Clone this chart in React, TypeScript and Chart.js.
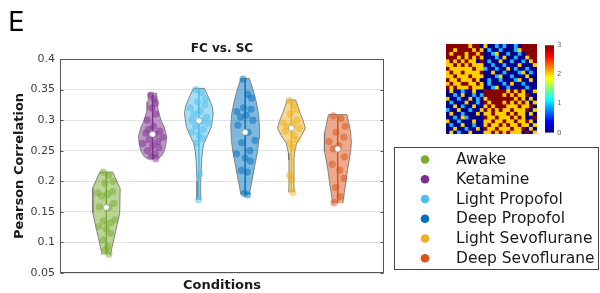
import { useEffect, useRef } from "react";
import { Chart, registerables } from "chart.js";

Chart.register(...registerables);

const FONT = "'DejaVu Sans', 'Liberation Sans', sans-serif";

// ---------- texts ----------
const panelLabel = "E";
const chartTitle = "FC vs. SC";
const xTitle = "Conditions";
const yTitle = "Pearson Correlation";

// ---------- categories ----------
const categories = ["Awake", "Ketamine", "Light Propofol", "Deep Propofol", "Light Sevoflurane", "Deep Sevoflurane"];
const colors = ["#77AC30", "#7E2F8E", "#4DBEEE", "#0072BD", "#EDB120", "#D95319"];

// ---------- y axis ----------
const yMin = 0.05;
const yMax = 0.4;
const yStep = 0.05;

// ---------- per-subject values ----------
const awakeValues = [0.215, 0.21, 0.2, 0.197, 0.183, 0.181, 0.179, 0.176, 0.164, 0.158, 0.157, 0.137, 0.135, 0.132, 0.126, 0.122, 0.115, 0.104, 0.093, 0.088, 0.081];
const ketamineValues = [0.341, 0.335, 0.328, 0.32, 0.31, 0.3, 0.29, 0.285, 0.282, 0.279, 0.277, 0.272, 0.268, 0.265, 0.262, 0.258, 0.255, 0.25, 0.245, 0.24, 0.237];
const lightPropofolValues = [0.35, 0.345, 0.335, 0.33, 0.325, 0.32, 0.315, 0.31, 0.305, 0.3, 0.298, 0.295, 0.29, 0.285, 0.28, 0.275, 0.27, 0.262, 0.212, 0.17];
const deepPropofolValues = [0.367, 0.342, 0.336, 0.32, 0.318, 0.314, 0.308, 0.305, 0.3, 0.292, 0.28, 0.267, 0.263, 0.25, 0.245, 0.238, 0.233, 0.218, 0.215, 0.18, 0.178];
const lightSevoValues = [0.332, 0.325, 0.317, 0.31, 0.3, 0.295, 0.292, 0.29, 0.287, 0.282, 0.275, 0.268, 0.262, 0.255, 0.21, 0.203, 0.182];
const deepSevoValues = [0.307, 0.303, 0.29, 0.28, 0.272, 0.265, 0.258, 0.253, 0.24, 0.228, 0.218, 0.205, 0.19, 0.175, 0.165];

// ---------- violin density profiles (levels and half widths, in category units) ----------
const awakeLevels = [0.08, 0.148, 0.188, 0.215];
const awakeWidths = [0.09, 0.29, 0.3, 0.14];
const ketamineLevels = [0.236, 0.242, 0.251, 0.262, 0.273, 0.289, 0.3, 0.317, 0.33, 0.344];
const ketamineWidths = [0.1, 0.2, 0.26, 0.29, 0.305, 0.25, 0.18, 0.12, 0.1, 0.085];
const lightPropofolLevels = [0.17, 0.2, 0.235, 0.25, 0.262, 0.275, 0.289, 0.31, 0.322, 0.335, 0.352];
const lightPropofolWidths = [0.04, 0.04, 0.06, 0.08, 0.11, 0.19, 0.27, 0.31, 0.29, 0.22, 0.12];
const deepPropofolLevels = [0.178, 0.19, 0.21, 0.23, 0.25, 0.27, 0.29, 0.31, 0.33, 0.35, 0.368];
const deepPropofolWidths = [0.09, 0.12, 0.17, 0.22, 0.27, 0.3, 0.31, 0.29, 0.24, 0.17, 0.09];
const lightSevoLevels = [0.182, 0.2, 0.235, 0.246, 0.262, 0.275, 0.287, 0.3, 0.311, 0.322, 0.333];
const lightSevoWidths = [0.06, 0.05, 0.055, 0.065, 0.11, 0.22, 0.3, 0.25, 0.19, 0.14, 0.09];
const deepSevoLevels = [0.164, 0.18, 0.2, 0.218, 0.235, 0.25, 0.263, 0.28, 0.295, 0.309];
const deepSevoWidths = [0.11, 0.14, 0.18, 0.21, 0.25, 0.28, 0.295, 0.28, 0.24, 0.2];

const groupValues = [awakeValues, ketamineValues, lightPropofolValues, deepPropofolValues, lightSevoValues, deepSevoValues];
const groupLevels = [awakeLevels, ketamineLevels, lightPropofolLevels, deepPropofolLevels, lightSevoLevels, deepSevoLevels];
const groupWidths = [awakeWidths, ketamineWidths, lightPropofolWidths, deepPropofolWidths, lightSevoWidths, deepSevoWidths];

// scatter jitter (fraction of local violin half width)
const jitter = [-0.55, 0.35, 0.75, -0.15, 0.55, -0.75, 0.1, -0.4, 0.65, -0.6, 0.25, 0.85, -0.3, 0.45, -0.85, 0.0, 0.6, -0.5, 0.3, -0.2, 0.7];

// ---------- inset SC matrix (0..3) ----------
const matrixRows = [
  "333333233020010100103333",
  "332333323201001000123333",
  "323332332300120010010333",
  "333232323200010200100233",
  "232323220301002001001023",
  "223232322200100100020002",
  "322222232210010020100100",
  "232232222300200100012010",
  "223222322200012001000200",
  "322322232001001000120020",
  "232233223201000102001000",
  "323222322200120010000100",
  "020010020033333323232002",
  "001020010133333232322300",
  "200100201023333333232020",
  "010002001032333232323202",
  "002010020023233322232230",
  "100200100232323223222302",
  "020010002022322232322020",
  "001021000032232223232003",
  "200100020022322322322320",
  "010020010023223232232202",
  "002001002032232223223020",
  "020100200022323232220302",
];
const matrixPalette = ["#000086", "#18B8FF", "#FFD000", "#880000"];
const colorbarTicks = [0, 1, 2, 3];

// ---------- helpers ----------
function rgba(hex: string, a: number) {
  const n = parseInt(hex.slice(1), 16);
  return `rgba(${(n >> 16) & 255},${(n >> 8) & 255},${n & 255},${a})`;
}
function halfWidthAt(levels: number[], widths: number[], v: number) {
  if (v <= levels[0]) return widths[0];
  for (let i = 1; i < levels.length; i++) {
    if (v <= levels[i]) {
      const t = (v - levels[i - 1]) / (levels[i] - levels[i - 1]);
      return widths[i - 1] + t * (widths[i] - widths[i - 1]);
    }
  }
  return widths[widths.length - 1];
}
function median(arr: number[]) {
  const s = [...arr].sort((a, b) => a - b);
  const m = Math.floor(s.length / 2);
  return s.length % 2 ? s[m] : (s[m - 1] + s[m]) / 2;
}

function buildMainDatasets() {
  const ds: any[] = [];
  categories.forEach((name, g) => {
    const c = g + 1;
    const lv = groupLevels[g];
    const wd = groupWidths[g];
    const vals = groupValues[g];
    const right = lv.map((y, i) => ({ x: c + wd[i], y }));
    const left = lv.map((y, i) => ({ x: c - wd[i], y })).reverse();
    ds.push({
      label: name + " violin",
      data: [...right, ...left],
      showLine: true,
      fill: "shape",
      backgroundColor: rgba(colors[g], 0.5),
      borderColor: "rgba(115,115,115,0.85)",
      borderWidth: 1,
      pointRadius: 0,
      tension: 0,
      order: 10,
    });
    ds.push({
      label: name + " range",
      data: [
        { x: c, y: Math.min(...vals) },
        { x: c, y: Math.max(...vals) },
      ],
      showLine: true,
      borderColor: colors[g],
      borderWidth: 1.5,
      pointRadius: 0,
      order: 8,
    });
    ds.push({
      label: name,
      data: vals.map((v, i) => ({ x: c + jitter[i % jitter.length] * halfWidthAt(lv, wd, v) * 0.85, y: v })),
      pointRadius: 3.6,
      backgroundColor: rgba(colors[g], 0.5),
      borderWidth: 0,
      order: 6,
    });
    ds.push({
      label: name + " median",
      data: [{ x: c, y: median(vals) }],
      pointRadius: 3,
      backgroundColor: "#ffffff",
      borderColor: "rgba(110,110,110,0.8)",
      borderWidth: 0.6,
      order: 1,
    });
  });
  return ds;
}

const decorPlugin = {
  id: "decor",
  afterDraw(chart: any) {
    const { ctx, chartArea: a } = chart;
    const yScale = chart.scales.y;
    ctx.save();
    // axes box
    ctx.strokeStyle = "#555555";
    ctx.lineWidth = 1;
    const l = Math.round(a.left) + 0.5;
    const t = Math.round(a.top) + 0.5;
    const r = Math.round(a.right) - 0.5;
    const b = Math.round(a.bottom) - 0.5;
    ctx.strokeRect(l, t, r - l, b - t);
    yScale.ticks.forEach((tk: any) => {
      const y = Math.round(yScale.getPixelForValue(tk.value)) + 0.5;
      ctx.beginPath();
      ctx.moveTo(l, y);
      ctx.lineTo(l + 3, y);
      ctx.moveTo(r - 3, y);
      ctx.lineTo(r, y);
      ctx.stroke();
    });
    // title
    ctx.fillStyle = "#1a1a1a";
    ctx.font = `bold 12px ${FONT}`;
    ctx.textAlign = "center";
    ctx.textBaseline = "middle";
    ctx.fillText(chartTitle, (a.left + a.right) / 2, 49);
    // panel label
    ctx.fillStyle = "#000000";
    ctx.font = `26px ${FONT}`;
    ctx.textAlign = "left";
    ctx.textBaseline = "alphabetic";
    ctx.fillText(panelLabel, 8, 31);
    // legend
    const bx = 394.5, by = 147.5, bw = 204, bh = 122;
    ctx.fillStyle = "#ffffff";
    ctx.fillRect(bx, by, bw, bh);
    ctx.strokeStyle = "#444444";
    ctx.strokeRect(bx, by, bw, bh);
    ctx.font = `15.5px ${FONT}`;
    ctx.textBaseline = "middle";
    categories.forEach((name, i) => {
      const y = 159.5 + i * 19.75;
      ctx.fillStyle = colors[i];
      ctx.beginPath();
      ctx.arc(425, y, 4.3, 0, Math.PI * 2);
      ctx.fill();
      ctx.fillStyle = "#1a1a1a";
      ctx.fillText(name, 456, y + 0.5);
    });
    ctx.restore();
  },
};

function mainConfig(): any {
  return {
    type: "scatter",
    data: { datasets: buildMainDatasets() },
    plugins: [decorPlugin],
    options: {
      responsive: false,
      animation: false,
      events: [],
      layout: { padding: { left: 0, top: 59, right: 216, bottom: 0 } },
      plugins: { legend: { display: false }, tooltip: { enabled: false }, title: { display: false } },
      scales: {
        x: {
          type: "linear",
          min: 0,
          max: categories.length + 1,
          ticks: { display: false },
          grid: { display: false },
          border: { display: false },
          title: {
            display: true,
            text: xTitle,
            color: "#1a1a1a",
            font: { family: FONT, size: 13, weight: "bold" },
            padding: { top: 0, bottom: 0 },
          },
          afterFit: (s: any) => {
            s.height = 20;
          },
        },
        y: {
          type: "linear",
          min: yMin,
          max: yMax,
          ticks: {
            stepSize: yStep,
            color: "#404040",
            font: { family: FONT, size: 11 },
            padding: 5,
            callback: (v: number) => String(Math.round(v * 100) / 100),
          },
          grid: { color: "#e2e2e2", lineWidth: 1, drawTicks: false },
          border: { display: false },
          title: {
            display: true,
            text: yTitle,
            color: "#1a1a1a",
            font: { family: FONT, size: 13, weight: "bold" },
            padding: { top: 12, bottom: 0 },
          },
          afterFit: (s: any) => {
            s.width = 60;
          },
        },
      },
    },
  };
}

function matrixConfig(): any {
  const n = matrixRows.length;
  const cols = matrixRows[0].split("").map((_, i) => String(i));
  return {
    type: "bar",
    data: {
      labels: cols,
      datasets: matrixRows.map((row, r) => ({
        data: row.split("").map(() => [n - 1 - r, n - r]),
        backgroundColor: row.split("").map((ch) => matrixPalette[Number(ch)]),
        borderWidth: 0,
        barPercentage: 1,
        categoryPercentage: 1,
        grouped: false,
        inflateAmount: 0.4,
      })),
    },
    options: {
      responsive: false,
      animation: false,
      events: [],
      layout: { padding: 0 },
      plugins: { legend: { display: false }, tooltip: { enabled: false } },
      scales: {
        x: { display: false },
        y: { display: false, min: 0, max: n },
      },
    },
  };
}

function colorbarConfig(): any {
  const lo = colorbarTicks[0];
  const hi = colorbarTicks[colorbarTicks.length - 1];
  return {
    type: "bar",
    data: {
      labels: [""],
      datasets: [
        {
          data: [[lo, hi]],
          backgroundColor: (c: any) => {
            const area = c.chart.chartArea;
            if (!area) return "#0000ff";
            const g = c.chart.ctx.createLinearGradient(0, area.bottom, 0, area.top);
            g.addColorStop(0, "#000080");
            g.addColorStop(0.125, "#0000ff");
            g.addColorStop(0.375, "#00ffff");
            g.addColorStop(0.625, "#ffff00");
            g.addColorStop(0.875, "#ff0000");
            g.addColorStop(1, "#800000");
            return g;
          },
          borderWidth: 0,
          barPercentage: 1,
          categoryPercentage: 1,
        },
      ],
    },
    options: {
      responsive: false,
      animation: false,
      events: [],
      layout: { padding: { top: 6, bottom: 6, left: 0, right: 0 } },
      plugins: { legend: { display: false }, tooltip: { enabled: false } },
      scales: {
        x: { display: false },
        y: {
          position: "right",
          min: lo,
          max: hi,
          ticks: { stepSize: 1, color: "#666666", font: { family: FONT, size: 7 }, padding: 3 },
          grid: { drawOnChartArea: false, drawTicks: false },
          border: { display: false },
          afterFit: (s: any) => {
            s.width = 17;
          },
        },
      },
    },
  };
}

export default function App() {
  const mainRef = useRef<HTMLCanvasElement>(null);
  const matRef = useRef<HTMLCanvasElement>(null);
  const barRef = useRef<HTMLCanvasElement>(null);

  useEffect(() => {
    const charts = [
      new Chart(mainRef.current as HTMLCanvasElement, mainConfig()),
      new Chart(matRef.current as HTMLCanvasElement, matrixConfig()),
      new Chart(barRef.current as HTMLCanvasElement, colorbarConfig()),
    ];
    return () => charts.forEach((c) => c.destroy());
  }, []);

  return (
    <div style={{ position: "absolute", left: 0, top: 0, width: 600, height: 293, background: "#ffffff", overflow: "hidden" }}>
      <canvas ref={mainRef} width={600} height={293} style={{ position: "absolute", left: 0, top: 0 }} />
      <canvas ref={matRef} width={91} height={90} style={{ position: "absolute", left: 446, top: 44 }} />
      <canvas ref={barRef} width={26} height={102} style={{ position: "absolute", left: 545, top: 38 }} />
    </div>
  );
}
